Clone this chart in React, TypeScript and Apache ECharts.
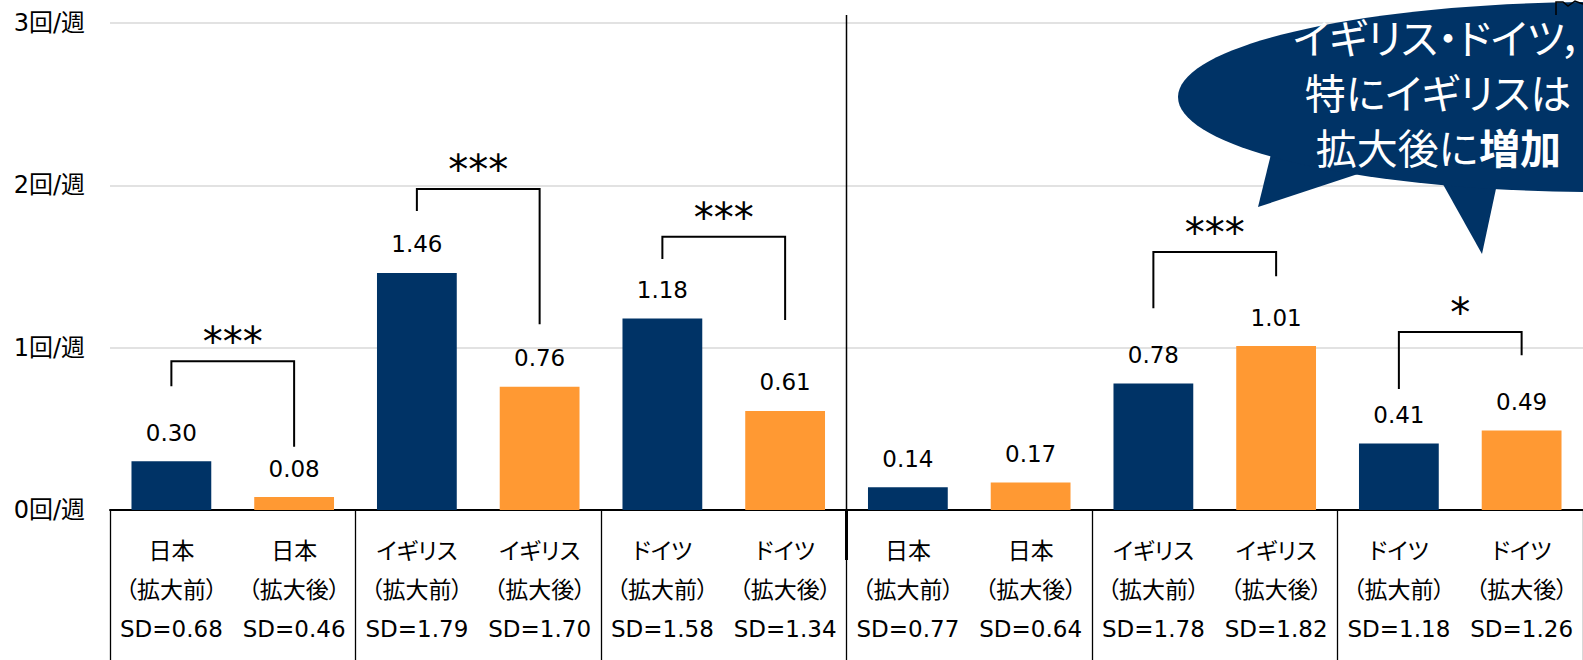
import React, { useEffect, useRef } from "react";
import * as echarts from "echarts";

const countries = ["日本", "日本", "イギリス", "イギリス", "ドイツ", "ドイツ", "日本", "日本", "イギリス", "イギリス", "ドイツ", "ドイツ"];
const periods = ["拡大前", "拡大後", "拡大前", "拡大後", "拡大前", "拡大後", "拡大前", "拡大後", "拡大前", "拡大後", "拡大前", "拡大後"];
const sds = ["0.68", "0.46", "1.79", "1.70", "1.58", "1.34", "0.77", "0.64", "1.78", "1.82", "1.18", "1.26"];
const values = [0.30, 0.08, 1.46, 0.76, 1.18, 0.61, 0.14, 0.17, 0.78, 1.01, 0.41, 0.49];
const yTicks = [0, 1, 2, 3];

// significance brackets: [left category, right category, top, left leg end, right leg end]
const bracketPairs = [[0, 1], [2, 3], [4, 5], [8, 9], [10, 11]];
const bracketTop = [0.917, 1.977, 1.683, 1.589, 1.096];
const bracketLeftEnd = [0.763, 1.842, 1.546, 1.243, 0.746];
const bracketRightEnd = [0.39, 1.145, 1.17, 1.44, 0.954];
const sigLabels = ["***", "***", "***", "***", "*"];

const NAVY = "#003366";
const ORANGE = "#FF9933";
const FONT = "'DejaVu Sans', 'Noto Sans CJK JP', sans-serif";

const categories = countries.map((c, i) => `${c}\n（${periods[i]}）\nSD=${sds[i]}`);
const barData = values.map((v, i) => ({
  value: v,
  itemStyle: { color: periods[i] === "拡大前" ? NAVY : ORANGE },
}));
const bracketData = bracketPairs.map((p, i) => [p[0], p[1], bracketTop[i], bracketLeftEnd[i], bracketRightEnd[i]]);

export default function App() {
  const ref = useRef<HTMLDivElement>(null);
  useEffect(() => {
    const chart = echarts.init(ref.current!, null, { renderer: "svg" });
    chart.setOption({
      animation: false,
      grid: { left: 110, top: 23, bottom: 150, right: -9, containLabel: false },
      xAxis: {
        type: "category",
        data: categories,
        axisLine: { lineStyle: { color: "#000", width: 2 } },
        axisTick: {
          show: true,
          interval: (i: number) => i % 2 === 0,
          length: 150,
          lineStyle: { color: "#000", width: 1.3 },
        },
        axisLabel: {
          interval: 0,
          fontSize: 23,
          lineHeight: 39,
          margin: 21,
          color: "#000",
          fontFamily: FONT,
        },
      },
      yAxis: {
        type: "value",
        min: yTicks[0],
        max: yTicks[yTicks.length - 1],
        interval: 1,
        axisLine: { show: false },
        axisTick: { show: false },
        splitLine: { lineStyle: { color: "#d9d9d9", width: 1.5 } },
        axisLabel: {
          formatter: (v: number) => `${v}回/週`,
          fontSize: 24,
          margin: 25,
          color: "#000",
          fontFamily: FONT,
        },
      },
      series: [
        {
          type: "bar",
          data: barData,
          barWidth: "65%",
          label: {
            show: true,
            position: "top",
            distance: 17,
            fontSize: 23,
            color: "#000",
            fontFamily: FONT,
            formatter: (p: any) => Number(p.value).toFixed(2),
          },
        },
        {
          type: "custom",
          data: bracketData,
          encode: { x: 0, y: 2 },
          clip: false,
          z: 5,
          renderItem: (params: any, api: any) => {
            const a = api.value(0);
            const b = api.value(1);
            const top = api.value(2);
            const le = api.value(3);
            const re = api.value(4);
            const p1 = api.coord([a, le]);
            const p2 = api.coord([a, top]);
            const p3 = api.coord([b, top]);
            const p4 = api.coord([b, re]);
            return {
              type: "group",
              children: [
                {
                  type: "polyline",
                  shape: { points: [p1, p2, p3, p4] },
                  style: { stroke: "#000", lineWidth: 2, fill: "none" },
                },
                {
                  type: "text",
                  x: (p2[0] + p3[0]) / 2,
                  y: p2[1] - 19,
                  style: {
                    text: sigLabels[params.dataIndex],
                    fontSize: 40,
                    fontFamily: FONT,
                    fill: "#000",
                    align: "center",
                    verticalAlign: "middle",
                  },
                },
              ],
            };
          },
        },
      ],
    });

    const xd = ((chart.convertToPixel({ xAxisIndex: 0 }, 5) as number) + (chart.convertToPixel({ xAxisIndex: 0 }, 6) as number)) / 2;
    const y0 = chart.convertToPixel({ yAxisIndex: 0 }, 0) as number;

    chart.setOption({
      graphic: [
        { type: "line", z: 50, shape: { x1: xd, y1: 15, x2: xd, y2: y0 }, style: { stroke: "#000", lineWidth: 1.5 } },
        { type: "line", z: 50, shape: { x1: xd, y1: y0, x2: xd, y2: y0 + 50 }, style: { stroke: "#000", lineWidth: 3 } },
        {
          type: "group",
          z: 100,
          children: [
            { type: "polygon", shape: { points: [[1272, 150], [1258, 207], [1370, 170]] }, style: { fill: NAVY } },
            { type: "polygon", shape: { points: [[1435, 170], [1482, 254], [1500, 170]] }, style: { fill: NAVY } },
            { type: "ellipse", shape: { cx: 1600, cy: 97, rx: 422, ry: 95 }, style: { fill: NAVY } },
            {
              type: "text",
              x: 1438,
              y: 91,
              style: {
                text: "イギリス・ドイツ，\n特にイギリスは\n拡大後に{b|増加}",
                fontSize: 41,
                lineHeight: 55,
                fontFamily: "'Noto Sans CJK JP', sans-serif",
                fill: "#fff",
                align: "center",
                verticalAlign: "middle",
                rich: {
                  b: { fontSize: 41, lineHeight: 55, fontWeight: "bold", fill: "#fff", fontFamily: "'Noto Sans CJK JP', sans-serif" },
                },
              },
            },
          ],
        },
        {
          type: "polyline",
          z: 110,
          shape: { points: [[1556, 15], [1556, 2], [1563, 2], [1568, 6], [1575, 1], [1583, 4]] },
          style: { stroke: "#000", lineWidth: 1.5, fill: "none" },
        },
      ],
    });

    return () => chart.dispose();
  }, []);

  return (
    <>
      <style>{`#chartbox text, #chartbox tspan { font-feature-settings: "palt" !important; }`}</style>
      <div
        id="chartbox"
        ref={ref}
        style={{
          position: "absolute",
          left: 0,
          top: 0,
          width: 1583,
          height: 660,
          background: "#fff",
        }}
      />
    </>
  );
}
